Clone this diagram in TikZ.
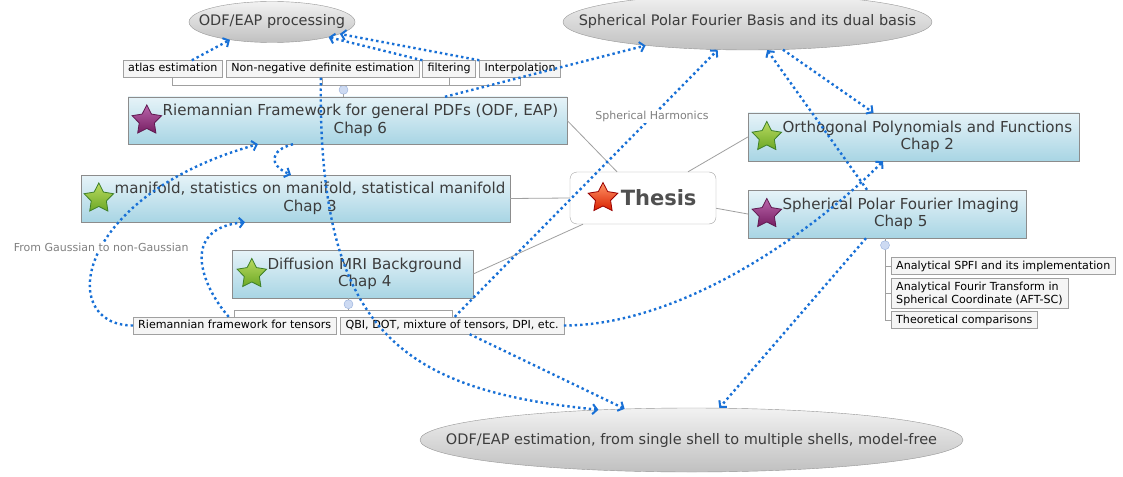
\documentclass[tikz,border=0pt]{standalone}
\usepackage{fontspec}
\setmainfont{DejaVu Sans}
\usetikzlibrary{shapes,shapes.geometric}
\usetikzlibrary{arrows.meta}
\usetikzlibrary{positioning}
\definecolor{linkblue}{RGB}{24,112,214}
\definecolor{chaptop}{RGB}{230,243,248}
\definecolor{chapbot}{RGB}{168,213,228}
\definecolor{chapedge}{RGB}{140,140,140}
\definecolor{chaptxt}{RGB}{60,60,60}
\definecolor{topictop}{RGB}{242,242,242}
\definecolor{topicbot}{RGB}{192,192,192}
\definecolor{topicedge}{RGB}{150,150,150}
\definecolor{subfill}{RGB}{245,245,245}
\definecolor{subedge}{RGB}{160,160,160}
\definecolor{treegray}{RGB}{160,160,160}
\definecolor{notegray}{RGB}{128,128,128}
\definecolor{foldfill}{RGB}{205,218,242}
\definecolor{foldedge}{RGB}{150,175,220}
\definecolor{greentop}{RGB}{185,218,95}
\definecolor{greenbot}{RGB}{108,168,38}
\definecolor{greenedge}{RGB}{62,128,40}
\definecolor{purpletop}{RGB}{185,100,170}
\definecolor{purplebot}{RGB}{118,30,98}
\definecolor{purpleedge}{RGB}{95,25,80}
\tikzset{chap/.style={rectangle, draw=chapedge, top color=chaptop, bottom color=chapbot, inner sep=0pt},
         chaptext/.style={text=chaptxt, align=center, inner sep=0pt, font=\fontsize{15.1}{17.5}\selectfont},
         topic/.style={ellipse, draw=topicedge, top color=topictop, bottom color=topicbot, inner sep=0pt},
         topictext/.style={text=chaptxt, inner sep=0pt, font=\fontsize{14.5}{17}\selectfont},
         sub/.style={rectangle, draw=subedge, fill=subfill, inner xsep=5pt, inner ysep=3pt,
                     text height=8.5pt, text depth=2.5pt, font=\fontsize{11.1}{13}\selectfont},
         note/.style={text=notegray, inner sep=1pt, font=\fontsize{11}{13}\selectfont},
         chapstar/.style={star, star points=5, star point ratio=1.95, minimum size=31pt, inner sep=0pt, line width=0.8pt},
         purplestar/.style={chapstar, draw=purpleedge, top color=purpletop, bottom color=purplebot},
         greenstar/.style={chapstar, draw=greenedge, top color=greentop, bottom color=greenbot},
         redstar/.style={chapstar, draw=red!60!black, top color=orange!60!red!60, bottom color=red!70!orange!85!black},
         fold/.style={circle, draw=foldedge, fill=foldfill, minimum size=9pt, inner sep=0pt},
         treeline/.style={draw=treegray, line width=0.8pt},
         branchline/.style={draw=treegray, line width=0.8pt},
         linkline/.style={draw=linkblue, line width=2.4pt, dash pattern=on 2.4pt off 3pt,
                          -{Straight Barb[length=4.5pt,width=10pt,line width=2pt]}}}
\begin{document}
\begin{tikzpicture}[x=1pt,y=-1pt]
\useasboundingbox[fill=white] (0,0) rectangle (1123,476);
% topics
\node [topic, minimum width=166pt, minimum height=41pt, label={[topictext]center:ODF/EAP processing}] (proc) at (272,22) {};
\node [topic, minimum width=369pt, minimum height=56pt, label={[topictext]center:Spherical Polar Fourier Basis and its dual basis}] (spf) at (747.5,22) {};
\node [topic, minimum width=543pt, minimum height=64pt, label={[topictext]center:ODF/EAP estimation, from single shell to multiple shells, model-free}] (est) at (691.5,440) {};
%
% thesis and chapters
\node [rectangle, rounded corners=7pt, draw=chapedge!80, fill=white, minimum width=146pt, minimum height=52pt] (th) at (643,198) {};
\node [redstar, minimum size=31pt] (s0) at (603,198) {};
\node [right=7pt of s0, inner sep=0pt, text=chaptxt!90, font=\bfseries\fontsize{21}{24}\selectfont] (t0) {Thesis};
%
\node [chap, minimum width=439pt, minimum height=47pt] (c6) at (347.5,120.5) {};
\node [purplestar] (s6) at ([xshift=19pt]c6.west) {};
\node [chaptext, right=5pt of s6] (t6) {Riemannian Framework for general PDFs (ODF, EAP)\\Chap 6};
%
\node [chap, minimum width=429pt, minimum height=47pt] (c3) at (295.5,198.5) {};
\node [greenstar] (s3) at ([xshift=18pt]c3.west) {};
\node [chaptext, right=5pt of s3] (t3) {manifold, statistics on manifold, statistical manifold\\Chap 3};
%
\node [chap, minimum width=241pt, minimum height=48pt] (c4) at (352.5,274) {};
\node [greenstar] (s4) at ([xshift=20pt]c4.west) {};
\node [chaptext, right=5pt of s4] (t4) {Diffusion MRI Background\\Chap 4};
%
\node [chap, minimum width=331pt, minimum height=48pt] (c2) at (913.5,137) {};
\node [greenstar] (s2) at ([xshift=19pt]c2.west) {};
\node [chaptext, right=5pt of s2] (t2) {Orthogonal Polynomials and Functions\\Chap 2};
%
\node [chap, minimum width=278pt, minimum height=48pt] (c5) at (887,214) {};
\node [purplestar] (s5) at ([xshift=19pt]c5.west) {};
\node [chaptext, right=5pt of s5] (t5) {Spherical Polar Fourier Imaging\\Chap 5};
%
% sub topics
\node [sub, anchor=west] (atlas) at (123,69) {atlas estimation};
\node [sub, right=3.5pt of atlas] (nonneg) {Non-negative definite estimation};
\node [sub, right=3pt of nonneg] (filt) {filtering};
\node [sub, right=3.5pt of filt] (interp) {Interpolation};
\node [fold] (f6) at ([xshift=-4pt,yshift=7pt]c6.north) {};
\draw [treeline] (atlas.south) -- ++(0,7.5) -| (interp.south);
\draw [treeline] (nonneg.south) -- ++(0,7.5);
\draw [treeline] (filt.south) -- ++(0,7.5);
\draw [treeline] (f6.south) -- (f6.south |- c6.north);
%
\node [sub, anchor=west] (tens) at (133,325.5) {Riemannian framework for tensors};
\node [sub, right=4pt of tens] (qbi) {QBI, DOT, mixture of tensors, DPI, etc.};
\node [fold] (f4) at ([xshift=-4pt,yshift=-6pt]c4.south) {};
\draw [treeline] (tens.north) -- ++(0,-6) -| (qbi.north);
\draw [treeline] (f4.north) -- (f4.north |- c4.south);
\draw [treeline] (f4.south) -- ++(0,2.5);
%
\node [sub, anchor=west] (an1) at (891,266) {Analytical SPFI and its implementation};
\node [sub, anchor=west, align=left, text height=, text depth=] (an2) at (891,293.5) {Analytical Fourir Transform in\\Spherical Coordinate (AFT-SC)};
\node [sub, anchor=west] (an3) at (891,320) {Theoretical comparisons};
\node [fold] (f5) at ([xshift=-2pt,yshift=-7pt]c5.south) {};
\draw [treeline] (f5.north) -- (f5.north |- c5.south);
\draw [treeline] (f5.south) |- (an1.west);
\draw [treeline] (f5.south) |- (an2.west);
\draw [treeline] (f5.south) |- (an3.west);
%
% branches of the thesis
\draw [branchline] ([xshift=-26pt]th.north) -- (c6.east);
\draw [branchline] (th.west) -- (c3.east);
\draw [branchline] ([xshift=-60pt]th.south) -- (c4.east);
\draw [branchline] ([xshift=45pt]th.north) -- (c2.west);
\draw [branchline] (th.-8) -- (c5.west);
%
% relations
\draw [linkline] ([xshift=19pt]atlas.north) -- (proc.203);
\draw [linkline] (filt.north west) -- (proc.345);
\draw [linkline] (interp.north west) -- (proc.350);
\draw [linkline] ([xshift=97.5pt]c6.north) -- (spf.193);
\draw [linkline] ([xshift=-2pt]nonneg.south) .. controls +(-3,252) and +(-200,-20) .. (est.162);
\draw [linkline] ([xshift=17.5pt]qbi.south) -- (est.155);
\draw [linkline] ([xshift=2.5pt]qbi.north) -- node [note, pos=.75, fill=white] {Spherical Harmonics} (spf.223);
\draw [linkline] (qbi.east) .. controls +(115,0) and +(-73,74) .. ([xshift=-30.5pt]c2.south);
\draw [linkline] (spf.322) -- ([xshift=-40pt]c2.north);
\draw [linkline] ([xshift=-20pt]c5.north) -- (spf.305);
\draw [linkline] ([xshift=-21pt]c5.south) -- (est.49);
\draw [linkline] (tens.west) .. controls +(-78,0) and +(-183,51) .. node [note, pos=.53, fill=white] {From Gaussian to non-Gaussian} ([xshift=-89.5pt]c6.south);
\draw [linkline] ([xshift=-6pt]tens.north) .. controls +(-28,-32) and +(-65,6) .. ([xshift=-50.5pt]c3.south);
\draw [linkline] ([xshift=-54.5pt]c6.south) .. controls +(-23,6) and +(-23,-10) .. ([xshift=-4.5pt]c3.north);
\end{tikzpicture}
\end{document}
